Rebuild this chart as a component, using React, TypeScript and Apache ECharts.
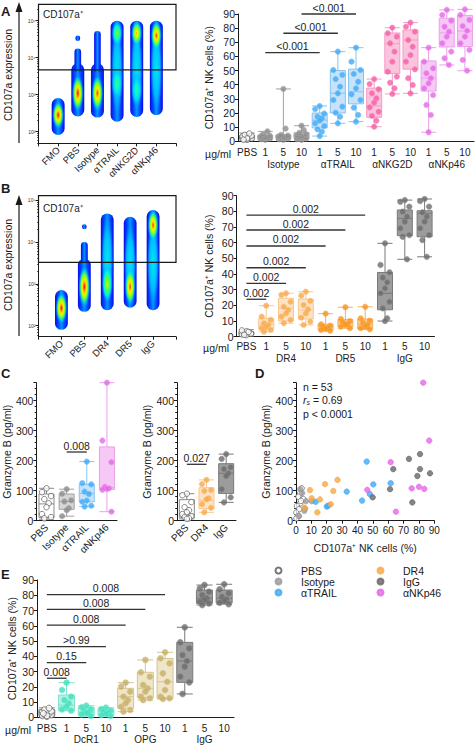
import React, { useEffect, useRef } from 'react';
import * as echarts from 'echarts';

const FONT = '"Liberation Sans", Arimo, Arial, Helvetica, sans-serif';
const INK = '#1a1a1a';

// ---------------- Panel A: flow plot (log10 units) ----------------
const flowACats = ['FMO', 'PBS', 'Isotype', 'αTRAIL', 'αNKG2D', 'αNKp46'];
const flowARange = [1.686, 5.443];
const flowAGate = [0, 3.668, 7, 5.443];
// [x, lowLog, highLog, halfWidth]
const flowABodies = [
  [1, 1.91, 2.91, 0.33],
  [2, 2.41, 3.85, 0.33],
  [2, 3.6, 4.25, 0.17],
  [2, 4.45, 4.6, 0.12],
  [3, 2.38, 3.85, 0.33],
  [3, 3.6, 4.72, 0.17],
  [4, 2.27, 5.0, 0.33],
  [5, 2.4, 5.0, 0.33],
  [6, 2.45, 5.0, 0.33],
];
// [x, centerLog, halfHeight, halfWidth, level]
const flowAHot = [
  [4, 3.65, 1.25, 0.3, 0.42],
  [5, 3.7, 1.2, 0.3, 0.42],
  [6, 3.7, 1.2, 0.3, 0.42],
  [1, 2.45, 0.38, 0.3, 1.0],
  [2, 3.04, 0.5, 0.3, 1.0],
  [3, 3.04, 0.5, 0.3, 0.95],
  [4, 4.66, 0.35, 0.28, 0.62],
  [4, 3.3, 0.45, 0.28, 0.55],
  [5, 4.66, 0.35, 0.28, 0.85],
  [5, 3.13, 0.45, 0.28, 0.52],
  [6, 4.6, 0.4, 0.28, 0.95],
];

// ---------------- Panel B: flow plot ----------------
const flowBCats = ['FMO', 'PBS', 'DR4', 'DR5', 'IgG'];
const flowBRange = [1.737, 5.103];
const flowBGate = [0, 3.513, 6, 5.103];
const flowBBodies = [
  [1, 1.9, 2.85, 0.28],
  [2, 2.33, 3.6, 0.28],
  [2, 3.5, 4.0, 0.15],
  [2, 4.3, 4.42, 0.1],
  [3, 2.37, 4.68, 0.28],
  [4, 2.43, 4.6, 0.28],
  [5, 2.37, 4.76, 0.28],
];
const flowBHot = [
  [3, 3.6, 1.05, 0.26, 0.42],
  [4, 3.5, 0.95, 0.26, 0.42],
  [5, 3.5, 1.05, 0.26, 0.42],
  [1, 2.42, 0.38, 0.26, 1.0],
  [2, 2.93, 0.5, 0.26, 1.0],
  [3, 3.0, 0.45, 0.24, 0.7],
  [4, 2.93, 0.45, 0.24, 0.95],
  [5, 4.4, 0.38, 0.24, 0.95],
];

// ---------------- Panel A: box plot ----------------
const aCats = ['PBS', '1', '5', '10', '1', '5', '10', '1', '5', '10', '1', '5', '10'];
const aGroups = ['', '', 'Isotype', '', '', 'αTRAIL', '', '', 'αNKG2D', '', '', 'αNKp46', ''];
const aKeys = ['PBS', 'Iso', 'Iso', 'Iso', 'TRAIL', 'TRAIL', 'TRAIL', 'NKG2D', 'NKG2D', 'NKG2D', 'NKp46', 'NKp46', 'NKp46'];
const aBoxes = [
  [0.8, 1.8, 2.8, 4.2, 5.8],
  [1, 1.8, 2.8, 4.2, 7],
  [1, 2, 3, 4.5, 37],
  [1, 2, 3.5, 6, 11],
  [3.7, 9.5, 15, 20, 25],
  [12.7, 20, 34, 50, 63.4],
  [13.9, 26.5, 35, 51, 66.2],
  [10.3, 17, 25, 37.6, 44],
  [33.5, 48, 69, 76.6, 80.3],
  [33.9, 51, 71.6, 78.7, 83.9],
  [6.4, 35.5, 44.7, 56.8, 66.2],
  [54, 66.7, 76.6, 87, 92.9],
  [49.9, 67, 78, 89, 93.3],
];
const aDots = [
  [1, 1.5, 2, 2.5, 3, 3, 3.5, 4, 4.5, 5.5, 2, 1.2],
  [1, 1.5, 2, 2, 2.5, 3, 3.5, 4, 5, 7],
  [1, 1.5, 2, 2.5, 3, 3, 3.5, 4, 4.5, 9, 37],
  [1, 1.5, 2, 2.5, 3, 3.5, 4, 5, 6, 8, 11],
  [24.9, 22.8, 19.6, 17.4, 16.3, 14.6, 12.7, 10.8, 8.5, 6.8, 3.7],
  [63.4, 50.4, 46.9, 44, 38.6, 33.9, 29.2, 24.5, 20.2, 17.4, 12.7],
  [66.2, 56.3, 50.4, 47.6, 42.1, 37.5, 33.2, 29.2, 23.8, 18.6, 13.9],
  [44, 40.5, 36.8, 33.9, 30.4, 27.3, 24, 20.9, 17.9, 14.6, 10.3],
  [80.3, 76.4, 74, 69.3, 63.4, 56.3, 49.2, 45.7, 41.4, 37.5, 33.5],
  [83.9, 81, 77.5, 71.6, 66.9, 61, 56.3, 50.9, 44.6, 39.8, 33.9],
  [66.2, 56.3, 51.6, 48.1, 44.6, 41, 37.5, 32.7, 25.7, 18.6, 6.4],
  [92.9, 89.3, 85.3, 81, 77.5, 74, 69.3, 63.4, 58.7, 54],
  [93.3, 89.3, 85.8, 81.5, 78.2, 74, 69.3, 64.6, 57.5, 49.9],
];
// [fromIndex, y, toIndex]
const aBrackets = [[1, 62.7, 4], [2, 76.4, 5], [3, 90, 6]];
const aBracketLabels = ['<0.001', '<0.001', '<0.001'];

// ---------------- Panel B: box plot ----------------
const bCats = ['PBS', '1', '5', '10', '1', '5', '10', '1', '5', '10'];
const bGroups = ['', '', 'DR4', '', '', 'DR5', '', '', 'IgG', ''];
const bKeys = ['PBS', 'DR4', 'DR4', 'DR4', 'DR5', 'DR5', 'DR5', 'IgG', 'IgG', 'IgG'];
const bBoxes = [
  [0.5, 1.2, 2.2, 3.2, 4.5],
  [3.2, 4.8, 8, 11.7, 19.8],
  [8.6, 10, 18.3, 24.5, 27.7],
  [7.5, 11.3, 17, 24, 28.7],
  [3.8, 4.5, 6.4, 8, 14.7],
  [5.4, 6.4, 9, 11, 18.8],
  [4.7, 5.2, 8, 11.3, 19.1],
  [10, 17.2, 27.7, 41, 59.6],
  [49.4, 64.5, 75.5, 80.9, 87.2],
  [51, 63.8, 78.7, 80.4, 87.9],
];
const bDots = [
  [1, 1.5, 2, 2.5, 3, 3.5, 4, 2, 1.2, 3],
  [19.8, 12.8, 10.7, 8.6, 7.5, 6.4, 5.4, 4.3, 3.2],
  [27.7, 26.6, 22.3, 19.1, 17, 14.9, 12.8, 10.7, 8.6],
  [28.7, 26.2, 22.8, 20.2, 17.5, 14.9, 12.1, 9.6, 7.5],
  [14.7, 7.9, 7, 6.4, 5.7, 4.9, 4.3, 3.8],
  [18.8, 11.3, 10, 9.2, 8.1, 7.5, 6.4, 5.4],
  [19.1, 11.7, 10.2, 8.9, 7.5, 6.4, 5.4, 4.7],
  [59.6, 45.8, 41.1, 37.7, 34.7, 30.9, 27.7, 22.3, 18.1, 11.7, 10],
  [87.2, 86.1, 83, 79.8, 76.6, 73.4, 69.2, 64.9, 63.8, 49.4],
  [87.9, 86.6, 83, 79.4, 76.6, 73.4, 69.2, 64.9, 61.7, 51],
];
const bBrackets = [[0, 23.9, 1], [0, 34.1, 2], [0, 44, 3], [0, 57.9, 4], [0, 68.1, 5], [0, 77.6, 6]];
const bBracketLabels = ['0.002', '0.002', '0.002', '0.002', '0.002', '0.002'];

// ---------------- Panel C ----------------
const cLeftCats = ['PBS', 'Isotype', 'αTRAIL', 'αNKp46'];
const cLeftKeys = ['PBS', 'Iso', 'TRAIL', 'NKp46'];
const cLeftBoxes = [
  [5, 11, 56, 89, 108],
  [15, 38, 64, 89, 105],
  [47, 63, 91, 121, 197],
  [30, 104, 110, 246, 460],
];
const cLeftDots = [
  [108, 95, 82, 72, 58, 45, 22, 12, 8],
  [105, 90, 68, 64, 42, 35, 15],
  [197, 125, 121, 97, 89, 67, 63, 50, 47],
  [460, 267, 195, 113, 108, 106, 103, 30],
];
const cLeftBrackets = [[1, 229, 2]];
const cLeftBracketLabels = ['0.008'];

const cRightCats = ['PBS', 'DR4', 'IgG'];
const cRightKeys = ['PBS', 'DR4', 'IgG'];
const cRightBoxes = [
  [6, 10, 22, 70, 90],
  [28, 40, 68, 110, 136],
  [61, 91, 158, 190, 222],
];
const cRightDots = [
  [90, 85, 62, 45, 35, 28, 22, 15, 12, 8, 6],
  [136, 122, 102, 99, 75, 71, 55, 43, 28],
  [222, 206, 178, 172, 158, 149, 105, 78, 61],
];
const cRightBrackets = [[0, 188, 1]];
const cRightBracketLabels = ['0.027'];

// ---------------- Panel D ----------------
const dPBS = [[3.7, 108], [2.6, 91], [1.5, 80], [4.8, 72], [2.8, 58], [0.6, 49], [1.9, 38], [0.2, 27], [1.5, 16], [0.3, 8], [3.2, 66]];
const dIso = [[10.2, 65], [6.5, 65], [5.4, 33], [5.9, 41], [2.8, 105], [4, 92], [2, 15]];
const dTRAIL = [[46, 197], [50.3, 121], [61.6, 125], [33, 97], [48, 89], [43, 67], [21, 50], [12.8, 63], [20, 47]];
const dDR4 = [[9.1, 102], [18.9, 122], [27, 136], [24.3, 99], [15.6, 71], [10.2, 75], [22.6, 55], [5.4, 43], [13.9, 28]];
const dIgG = [[73.5, 206], [80.7, 222], [63.3, 172], [80.7, 172], [79, 149], [87.2, 158], [61.2, 105], [49.9, 78], [75.7, 61]];
const dNKp46 = [[82.8, 460], [86.7, 267], [61.6, 195], [46.4, 103], [75.3, 108], [80, 113], [83.5, 106], [65, 30]];

// ---------------- Panel E ----------------
const eCats = ['PBS', '1', '5', '10', '1', '5', '10', '1', '5', '10'];
const eGroups = ['', '', 'DcR1', '', '', 'OPG', '', '', 'IgG', ''];
const eKeys = ['PBS', 'DcR1', 'DcR1', 'DcR1', 'OPG', 'OPG', 'OPG', 'IgG', 'IgG', 'IgG'];
const eBoxes = [
  [0.4, 1.2, 3, 5, 6.2],
  [4.3, 4.4, 8, 14.6, 22.7],
  [0.9, 1.5, 3.3, 6.5, 7.6],
  [0.9, 1.5, 3.7, 5.5, 6.3],
  [3.7, 5.9, 13.5, 19, 22.7],
  [11.3, 13, 19, 29.5, 37.6],
  [12, 12.4, 23.3, 38.6, 42.6],
  [15.3, 22.9, 36.9, 49.1, 59],
  [73.6, 74.7, 78, 83.4, 86.7],
  [74.2, 75, 78, 83.4, 87.2],
];
const eDots = [
  [0.5, 1, 1.5, 2, 2.5, 3, 3.5, 4, 5, 6, 1, 2.5],
  [22.7, 17.9, 13.5, 11.3, 9.2, 6.9, 5.2, 4.3],
  [7.6, 6.6, 5.2, 4.3, 3.3, 2.6, 2, 0.9],
  [6.3, 5.4, 4.3, 3.7, 3, 2.2, 1.5, 0.9],
  [22.7, 20.1, 16.8, 13.5, 11.3, 9.2, 6.9, 4.8, 3.7],
  [37.6, 29.5, 26.6, 21.2, 19, 16.8, 13.5, 12.5, 11.3],
  [42.6, 38.7, 35.4, 28.8, 23.3, 17.9, 13.5, 12.5, 12],
  [59, 49.1, 45.2, 40.8, 36.9, 33.2, 26.6, 22.9, 15.3],
  [86.7, 84.5, 82.3, 80.1, 78, 76.9, 75.8, 74.7, 73.6],
  [87.2, 83.9, 81.3, 79, 77.3, 76.2, 75.1, 74.2],
];
const eBrackets = [[0, 25.6, 1], [0, 35.8, 2], [0, 46.3, 3], [0, 60.4, 4], [0, 70.7, 5], [0, 80.4, 6]];
const eBracketLabels = ['0.008', '0.15', '>0.99', '0.008', '0.008', '0.008'];

// ---------------- styles ----------------
const PAL: Record<string, { dot: string; dotB: string; box: string; boxB: string }> = {
  PBS: { dot: '#ffffff', dotB: '#5a5a5a', box: '#ffffff', boxB: '#8a8a8a' },
  Iso: { dot: '#8c8c8c', dotB: '#a8a8a8', box: '#d6d6d6', boxB: '#a0a0a0' },
  TRAIL: { dot: '#3fa9f5', dotB: '#72c1f7', box: '#c7e3fb', boxB: '#86c4f2' },
  NKG2D: { dot: '#f45ca6', dotB: '#f88cc0', box: '#fbc3dc', boxB: '#f49cc6' },
  NKp46: { dot: '#e466e6', dotB: '#ee95ee', box: '#f6c8f5', boxB: '#e9a0e8' },
  DR4: { dot: '#f8a747', dotB: '#fbc27f', box: '#fde3c5', boxB: '#f8c790' },
  DR5: { dot: '#f7941d', dotB: '#f9ad55', box: '#fcd09c', boxB: '#f6b060' },
  IgG: { dot: '#6a6a6a', dotB: '#8a8a8a', box: '#9c9c9c', boxB: '#7a7a7a' },
  DcR1: { dot: '#3de0be', dotB: '#7eead3', box: '#b6f2e3', boxB: '#7fe3cc' },
  OPG: { dot: '#c6ae65', dotB: '#d7c48d', box: '#efe6c9', boxB: '#d5c48f' },
};
const JIT = [0, -4.5, 4.5, -2.2, 2.2, 0, -4.5, 4.5, -2.2, 2.2, 0, -3.5, 3.5];

const RAMP: [number, number[]][] = [
  [0, [0, 0, 230]], [0.2, [0, 80, 255]], [0.35, [0, 190, 255]], [0.45, [0, 245, 235]],
  [0.55, [70, 255, 80]], [0.68, [200, 255, 0]], [0.78, [255, 235, 0]], [0.88, [255, 130, 0]], [1, [255, 0, 0]],
];
function rampColor(t: number, a: number) {
  t = Math.max(0, Math.min(1, t));
  for (let i = 1; i < RAMP.length; i++) {
    if (t <= RAMP[i][0]) {
      const [t0, c0] = RAMP[i - 1];
      const [t1, c1] = RAMP[i];
      const f = (t - t0) / (t1 - t0);
      const c = c0.map((v, k) => Math.round(v + (c1[k] - v) * f));
      return `rgba(${c[0]},${c[1]},${c[2]},${a.toFixed(3)})`;
    }
  }
  return `rgba(255,0,0,${a})`;
}
function hotStops(level: number) {
  const stops = [];
  for (let i = 0; i <= 8; i++) {
    const t = i / 8;
    const l = level + (0.3 - level) * t;
    const a = t < 0.6 ? 1 : Math.max(0, 1 - (t - 0.6) / 0.4);
    stops.push({ offset: t, color: rampColor(l, a) });
  }
  return stops;
}
const BODY_FILL = {
  type: 'linear', x: 0, y: 0, x2: 1, y2: 0,
  colorStops: [
    { offset: 0, color: '#0808e8' }, { offset: 0.28, color: '#0050ff' },
    { offset: 0.5, color: '#0098ff' }, { offset: 0.72, color: '#0050ff' }, { offset: 1, color: '#0808e8' },
  ],
};

const sup: Record<number, string> = { 2: '²', 3: '³', 4: '⁴', 5: '⁵' };
function logMinor(lo: number, hi: number) {
  const out: number[] = [];
  for (let n = 1; n <= 5; n++) for (let k = 2; k <= 9; k++) {
    const v = Math.log10(k * Math.pow(10, n));
    if (v > lo && v < hi) out.push(v);
  }
  return out;
}

function bodySeries(xi: number, data: number[][]) {
  return {
    type: 'custom', xAxisIndex: xi, yAxisIndex: xi, data, z: 2,
    renderItem: (_p: any, api: any) => {
      const x = api.value(0), lo = api.value(1), hi = api.value(2), hw = api.value(3);
      const top = api.coord([x, hi]);
      const bot = api.coord([x, lo]);
      const w = api.size([hw * 2, 0])[0];
      const h = bot[1] - top[1];
      return {
        type: 'rect',
        shape: { x: top[0] - w / 2, y: top[1], width: w, height: h, r: Math.min(w / 2, h / 2) },
        style: { fill: BODY_FILL },
      };
    },
  };
}
function hotSeries(xi: number, data: number[][]) {
  return {
    type: 'custom', xAxisIndex: xi, yAxisIndex: xi, data, z: 3,
    renderItem: (_p: any, api: any) => {
      const x = api.value(0), c = api.value(1), hh = api.value(2), hw = api.value(3), lv = api.value(4);
      const p = api.coord([x, c]);
      const q = api.coord([x, c + hh]);
      const w = api.size([hw, 0])[0];
      return {
        type: 'ellipse',
        shape: { cx: p[0], cy: p[1], rx: w, ry: Math.abs(p[1] - q[1]) },
        style: { fill: { type: 'radial', x: 0.5, y: 0.5, r: 0.5, colorStops: hotStops(lv) } },
      };
    },
  };
}
function gateSeries(xi: number, gate: number[]) {
  return {
    type: 'custom', xAxisIndex: xi, yAxisIndex: xi, data: [gate], z: 4,
    renderItem: (_p: any, api: any) => {
      const a = api.coord([api.value(0), api.value(3)]);
      const b = api.coord([api.value(2), api.value(1)]);
      return {
        type: 'rect',
        shape: { x: a[0], y: a[1], width: b[0] - a[0], height: b[1] - a[1] },
        style: { fill: 'none', stroke: INK, lineWidth: 1.2 },
      };
    },
  };
}
function boxSeries(gi: number, boxes: number[][], keys: string[], w: number) {
  return {
    type: 'boxplot', xAxisIndex: gi, yAxisIndex: gi, boxWidth: [w, w], z: 2,
    data: boxes.map((b, i) => ({
      value: b,
      itemStyle: { color: PAL[keys[i]].box, borderColor: PAL[keys[i]].boxB, borderWidth: 1 },
    })),
  };
}
function dotSeries(gi: number, dots: number[][], keys: string[], size: number) {
  const data: any[] = [];
  dots.forEach((arr, i) => arr.forEach((v, j) => {
    const p = PAL[keys[i]];
    data.push({
      value: [i, v],
      symbolOffset: [JIT[j % JIT.length], 0],
      itemStyle: { color: p.dot, borderColor: p.dotB, borderWidth: keys[i] === 'PBS' ? 0.9 : 0.7 },
    });
  }));
  return { type: 'scatter', xAxisIndex: gi, yAxisIndex: gi, symbolSize: size, clip: false, z: 4, data };
}
function bracketSeries(gi: number, data: number[][], labels: string[]) {
  return {
    type: 'custom', xAxisIndex: gi, yAxisIndex: gi, data, z: 5,
    renderItem: (p: any, api: any) => {
      const a = api.coord([api.value(0), api.value(1)]);
      const b = api.coord([api.value(2), api.value(1)]);
      return {
        type: 'group',
        children: [
          { type: 'line', shape: { x1: a[0], y1: a[1], x2: b[0], y2: b[1] }, style: { stroke: '#333', lineWidth: 1.3 } },
          {
            type: 'text', x: (a[0] + b[0]) / 2, y: a[1] - 1,
            style: {
              text: labels[p.dataIndex], align: 'center', verticalAlign: 'bottom', textAlign: 'center',
              textVerticalAlign: 'bottom', fontSize: 10.5, fontFamily: FONT, fill: '#222',
            },
          },
        ],
      };
    },
  };
}

const axisLineStyle = { lineStyle: { color: INK, width: 1 } };
function catAxis(gi: number, cats: string[], groups: string[], lh: number, margin: number) {
  return {
    gridIndex: gi, type: 'category', data: cats, boundaryGap: true,
    axisLine: axisLineStyle,
    axisTick: { alignWithLabel: true, length: 3, lineStyle: { color: INK } },
    axisLabel: {
      interval: 0, fontSize: 10, color: '#222', margin, lineHeight: lh, fontFamily: FONT,
      formatter: (v: string, i: number) => (groups[i] ? v + '\n' + groups[i] : v),
    },
    splitLine: { show: false },
  };
}
function rotCatAxis(gi: number, cats: string[]) {
  return {
    gridIndex: gi, type: 'category', data: cats, boundaryGap: true,
    axisLine: axisLineStyle,
    axisTick: { alignWithLabel: true, length: 3, lineStyle: { color: INK } },
    axisLabel: { interval: 0, rotate: 45, fontSize: 10, color: '#222', margin: 5, fontFamily: FONT },
    splitLine: { show: false },
  };
}
function valAxis(gi: number, min: number, max: number, interval: number, name: string, nameGap: number, extra: any = {}) {
  return {
    gridIndex: gi, type: 'value', position: 'left', min, max, interval, name, nameLocation: 'middle', nameGap,
    nameTextStyle: { fontSize: 10.5, color: '#222', fontFamily: FONT },
    axisLine: { show: true, ...axisLineStyle },
    axisTick: { show: true, length: 3, lineStyle: { color: INK } },
    axisLabel: { fontSize: 10.5, color: '#222', margin: 3, fontFamily: FONT },
    splitLine: { show: false },
    ...extra,
  };
}
function flowXAxis(gi: number, cats: string[], max: number) {
  return {
    gridIndex: gi, type: 'value', min: 0, max, interval: 1,
    axisLine: { show: true, ...axisLineStyle },
    axisTick: { show: true, length: 3, lineStyle: { color: INK } },
    axisLabel: {
      rotate: 45, fontSize: 9.5, color: '#222', margin: 5, fontFamily: FONT,
      formatter: (v: number) => cats[Math.round(v) - 1] || '',
    },
    splitLine: { show: false },
  };
}
function flowYAxis(gi: number, range: number[]) {
  return {
    gridIndex: gi, type: 'value', position: 'left', min: range[0], max: range[1],
    axisLine: { show: true, ...axisLineStyle },
    axisTick: { show: true, length: 3, customValues: [2, 3, 4, 5], lineStyle: { color: INK } },
    axisLabel: {
      show: true, customValues: [2, 3, 4, 5], fontSize: 5, color: '#333', margin: 3,
      formatter: (v: number) => { const r = Math.round(v); return Math.abs(v - r) < 1e-6 && sup[r] ? '10' + sup[r] : ''; },
    },
    splitLine: { show: false },
  };
}
function flowYMinor(gi: number, range: number[]) {
  const mv = logMinor(range[0], range[1]);
  return {
    gridIndex: gi, type: 'value', position: 'left', offset: 0, min: range[0], max: range[1],
    axisLine: { show: false },
    axisTick: { show: true, length: 1.5, customValues: mv, lineStyle: { color: INK, width: 0.7 } },
    axisLabel: { show: false },
    splitLine: { show: false },
  };
}

function T(text: string, x: number, y: number, extra: any = {}, rotation = 0) {
  return {
    type: 'text', x, y, rotation, silent: true,
    style: { text, fontFamily: FONT, fontSize: 10.5, fill: INK, ...extra },
  };
}

function buildOption() {
  const ytitle = 'CD107a⁺ NK cells (%)';
  const gz = 'Granzyme B (pg/ml)';
  const gzExtra = {
    axisLabel: { fontSize: 10.5, color: '#222', margin: 3, fontFamily: FONT, showMaxLabel: false },
    minorTick: { show: true, splitNumber: 5, length: 1.8, lineStyle: { color: INK } },
  };
  const dStyle = (color: string, border: string) => ({ color, borderColor: border, borderWidth: 0.8 });
  const dS = (name: string, data: number[][], color: string, border: string) => ({
    type: 'scatter', name, xAxisIndex: 6, yAxisIndex: 6, data, symbolSize: 5.5, clip: false,
    itemStyle: dStyle(color, border), z: 4,
  });
  const legendBase = {
    orient: 'vertical', itemWidth: 7, itemHeight: 6, itemGap: 0, selectedMode: false,
    textStyle: { fontSize: 10.5, color: INK, lineHeight: 11, fontFamily: FONT, padding: [0, 0, 0, 14] },
  };
  const vm = { align: 'right', verticalAlign: 'middle', textAlign: 'right', textVerticalAlign: 'middle' };
  return {
    animation: false,
    backgroundColor: '#ffffff',
    textStyle: { fontFamily: FONT },
    grid: [
      { left: 38.5, top: 4.3, width: 137.5, height: 139 },
      { left: 238, top: 14, width: 236, height: 127.3 },
      { left: 38.5, top: 195.7, width: 137.5, height: 141 },
      { left: 236.5, top: 195.7, width: 198, height: 141 },
      { left: 36, top: 382.7, width: 81, height: 138 },
      { left: 177, top: 382.7, width: 59, height: 138 },
      { left: 296, top: 382.7, width: 138.3, height: 138 },
      { left: 37, top: 580, width: 197, height: 137.3 },
    ],
    xAxis: [
      flowXAxis(0, flowACats, 7),
      catAxis(1, aCats, aGroups, 12, 5),
      flowXAxis(2, flowBCats, 6),
      catAxis(3, bCats, bGroups, 12, 4),
      rotCatAxis(4, cLeftCats),
      rotCatAxis(5, cRightCats),
      {
        gridIndex: 6, type: 'value', min: 0, max: 90, interval: 10,
        name: 'CD107a⁺ NK cells (%)', nameLocation: 'middle', nameGap: 22,
        nameTextStyle: { fontSize: 10.5, color: '#222', fontFamily: FONT },
        axisLine: { show: true, ...axisLineStyle },
        axisTick: { show: true, length: 3, lineStyle: { color: INK } },
        axisLabel: { fontSize: 10, color: '#222', margin: 5, fontFamily: FONT },
        splitLine: { show: false },
      },
      catAxis(7, eCats, eGroups, 11, 6),
    ],
    yAxis: [
      flowYAxis(0, flowARange),
      valAxis(1, 0, 90, 10, ytitle, 24),
      flowYAxis(2, flowBRange),
      valAxis(3, 0, 90, 10, ytitle, 22),
      valAxis(4, 0, 460, 100, gz, 20, gzExtra),
      valAxis(5, 0, 460, 100, gz, 22, gzExtra),
      valAxis(6, 0, 460, 100, gz, 25, gzExtra),
      valAxis(7, 0, 90, 10, ytitle, 20),
      flowYMinor(0, flowARange),
      flowYMinor(2, flowBRange),
    ],
    legend: [
      { ...legendBase, data: ['PBS', 'Isotype', 'αTRAIL'], left: 269.5, top: 560 },
      { ...legendBase, data: ['DR4', 'IgG', 'αNKp46'], left: 371.5, top: 560 },
    ],
    series: [
      bodySeries(0, flowABodies),
      hotSeries(0, flowAHot),
      gateSeries(0, flowAGate),
      bodySeries(2, flowBBodies),
      hotSeries(2, flowBHot),
      gateSeries(2, flowBGate),

      boxSeries(1, aBoxes, aKeys, 15),
      dotSeries(1, aDots, aKeys, 5.5),
      bracketSeries(1, aBrackets, aBracketLabels),

      boxSeries(3, bBoxes, bKeys, 15),
      dotSeries(3, bDots, bKeys, 5.5),
      bracketSeries(3, bBrackets, bBracketLabels),

      boxSeries(4, cLeftBoxes, cLeftKeys, 15),
      dotSeries(4, cLeftDots, cLeftKeys, 5.5),
      bracketSeries(4, cLeftBrackets, cLeftBracketLabels),

      boxSeries(5, cRightBoxes, cRightKeys, 15),
      dotSeries(5, cRightDots, cRightKeys, 5.5),
      bracketSeries(5, cRightBrackets, cRightBracketLabels),

      dS('PBS', dPBS, '#ffffff', '#555555'),
      dS('Isotype', dIso, '#9a9a9a', '#9a9a9a'),
      dS('αTRAIL', dTRAIL, '#3fa9f5', '#3fa9f5'),
      dS('DR4', dDR4, '#f8a747', '#f8a747'),
      dS('IgG', dIgG, '#666666', '#666666'),
      dS('αNKp46', dNKp46, '#e466e6', '#e466e6'),

      boxSeries(7, eBoxes, eKeys, 16),
      dotSeries(7, eDots, eKeys, 6),
      bracketSeries(7, eBrackets, eBracketLabels),
    ],
    graphic: [
      T('A', 1, 5, { fontSize: 13, fontWeight: 'bold' }),
      T('B', 1, 182, { fontSize: 13, fontWeight: 'bold' }),
      T('C', 1, 367, { fontSize: 13, fontWeight: 'bold' }),
      T('D', 255, 367, { fontSize: 13, fontWeight: 'bold' }),
      T('E', 1, 568, { fontSize: 13, fontWeight: 'bold' }),
      { type: 'line', silent: true, shape: { x1: 19, y1: 143, x2: 19, y2: 10 }, style: { stroke: INK, lineWidth: 1.2 } },
      { type: 'polygon', silent: true, shape: { points: [[15.5, 12], [22.5, 12], [19, 2]] }, style: { fill: INK } },
      { type: 'line', silent: true, shape: { x1: 19, y1: 336, x2: 19, y2: 203 }, style: { stroke: INK, lineWidth: 1.2 } },
      { type: 'polygon', silent: true, shape: { points: [[15.5, 205], [22.5, 205], [19, 195]] }, style: { fill: INK } },
      T('CD107a expression', 8, 75, { align: 'center', verticalAlign: 'middle', textAlign: 'center', textVerticalAlign: 'middle' }, Math.PI / 2),
      T('CD107a expression', 8, 265, { align: 'center', verticalAlign: 'middle', textAlign: 'center', textVerticalAlign: 'middle' }, Math.PI / 2),
      T('CD107a⁺', 43, 9, { fontSize: 10 }),
      T('CD107a⁺', 43, 203, { fontSize: 10 }),
      T('µg/ml', 231, 154, vm),
      T('µg/ml', 229, 348, vm),
      T('µg/ml', 31, 730, vm),
      T('n = 53', 303, 387, { verticalAlign: 'middle', textVerticalAlign: 'middle' }),
      {
        type: 'text', x: 303, y: 400, silent: true,
        style: {
          text: '{i|r}{s|s}{n| = 0.69}', verticalAlign: 'middle', textVerticalAlign: 'middle', fontFamily: FONT, fill: INK,
          rich: {
            i: { fontStyle: 'italic', fontSize: 10.5, fontFamily: FONT },
            s: { fontStyle: 'italic', fontSize: 7, fontFamily: FONT, padding: [5, 0, 0, 0] },
            n: { fontSize: 10.5, fontFamily: FONT },
          },
        },
      },
      T('p < 0.0001', 303, 414, { verticalAlign: 'middle', textVerticalAlign: 'middle' }),
    ],
  };
}

export default function App() {
  const ref = useRef<HTMLDivElement>(null);
  useEffect(() => {
    if (!ref.current) return;
    const chart = echarts.init(ref.current, null, { renderer: 'svg' });
    chart.setOption(buildOption() as any);
    return () => chart.dispose();
  }, []);
  return (
    <div
      ref={ref}
      style={{ position: 'absolute', left: 0, top: 0, width: 475, height: 747, background: '#ffffff' }}
    />
  );
}
